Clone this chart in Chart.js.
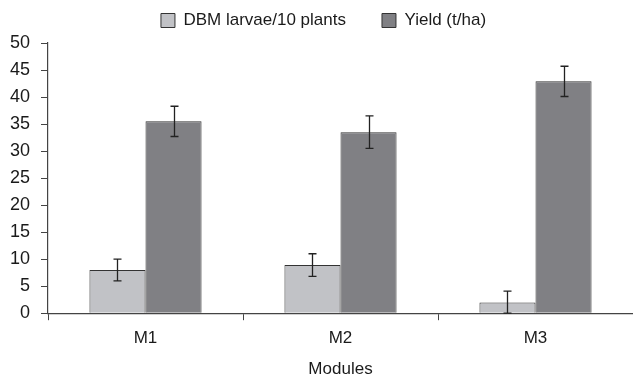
<!DOCTYPE html>
<html>
<head>
<meta charset="utf-8">
<script src="https://cdn.jsdelivr.net/npm/chart.js@4.4.0/dist/chart.umd.min.js"></script>
<style>
  html, body { margin: 0; padding: 0; background: #fff; }
  #wrap { width: 633px; height: 383px; position: relative; }
</style>
</head>
<body>
<div id="wrap"><canvas id="chart"></canvas></div>
<script>
const modules = ['M1', 'M2', 'M3'];
const larvae = [8.0, 8.9, 2.0];
const larvaeErr = [2.0, 2.1, 2.1];
const yieldVals = [35.5, 33.5, 42.9];
const yieldErr = [2.8, 3.0, 2.8];
const yTicks = [0, 5, 10, 15, 20, 25, 30, 35, 40, 45, 50];

const errors = [larvaeErr, yieldErr];

// error whiskers + a bit of legend placement tweaking
const errorBars = {
  id: 'errorBars',
  afterInit(chart) {
    const lg = chart.legend;
    const fit = lg.fit;
    lg.fit = function () { fit.call(this); this.height = 43; };
    const draw = lg.draw;
    lg.draw = function () {
      const t = this.top, l = this.left;
      this.top = t - 24;
      this.left = l + 14;
      draw.call(this);
      this.top = t;
      this.left = l;
    };
  },
  afterDatasetsDraw(chart) {
    const ctx = chart.ctx;
    const y = chart.scales.y;
    ctx.save();
    ctx.strokeStyle = '#222';
    ctx.lineWidth = 1.3;
    chart.data.datasets.forEach((ds, i) => {
      chart.getDatasetMeta(i).data.forEach((bar, j) => {
        const v = ds.data[j], e = errors[i][j];
        const top = y.getPixelForValue(v + e);
        const bot = y.getPixelForValue(Math.max(0, v - e));
        const x = Math.round(bar.x) + 0.5;
        ctx.beginPath();
        ctx.moveTo(x, top); ctx.lineTo(x, bot);
        ctx.moveTo(x - 4, top); ctx.lineTo(x + 4, top);
        ctx.moveTo(x - 4, bot); ctx.lineTo(x + 4, bot);
        ctx.stroke();
      });
    });
    ctx.restore();
  }
};

new Chart(document.getElementById('chart').getContext('2d'), {
  type: 'bar',
  data: {
    labels: modules,
    datasets: [{
      label: 'DBM larvae/10 plants',
      data: larvae,
      backgroundColor: '#c1c2c6',
      borderColor: '#333',
      borderWidth: 1
    }, {
      label: 'Yield (t/ha)',
      data: yieldVals,
      backgroundColor: '#808084',
      borderColor: '#333',
      borderWidth: 1
    }]
  },
  options: {
    responsive: true,
    maintainAspectRatio: false,
    animation: false,
    layout: { padding: { top: 0, right: 0, left: 0, bottom: -1 } },
    datasets: { bar: { barPercentage: 1, categoryPercentage: 0.575 } },
    plugins: {
      tooltip: { enabled: false },
      legend: {
        position: 'top',
        labels: {
          color: '#1a1a1a',
          font: { family: 'Liberation Sans', size: 17 },
          boxWidth: 14,
          boxHeight: 14,
          padding: 36
        }
      }
    },
    scales: {
      x: {
        grid: { drawOnChartArea: false, tickLength: 7, color: '#444' },
        border: { color: '#444', width: 1.2 },
        ticks: { color: '#1a1a1a', font: { family: 'Liberation Sans', size: 17 }, padding: 8 },
        title: {
          display: true, text: 'Modules', color: '#1a1a1a',
          font: { family: 'Liberation Sans', size: 17 }, padding: { top: 3 }
        }
      },
      y: {
        min: 0,
        max: 50,
        afterFit: s => { s.width = 48; },
        afterBuildTicks: s => { s.ticks = yTicks.map(v => ({ value: v })); },
        grid: { drawOnChartArea: false, tickLength: 7, color: '#444' },
        border: { color: '#444', width: 1.2 },
        ticks: { color: '#1a1a1a', font: { family: 'Liberation Sans', size: 18 }, padding: 11 }
      }
    }
  },
  plugins: [errorBars]
});
</script>
</body>
</html>
